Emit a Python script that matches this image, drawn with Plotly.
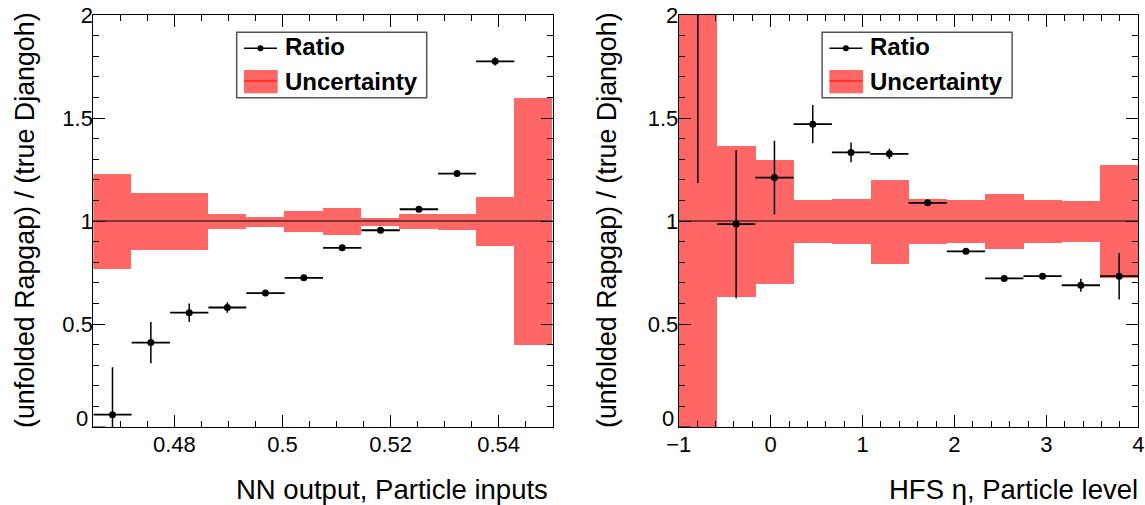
import plotly.graph_objects as go

# ---------------- data ----------------
left_edges = [0.4650, 0.4721, 0.4792, 0.4863, 0.4933, 0.5004, 0.5075,
              0.5146, 0.5217, 0.5288, 0.5358, 0.5429, 0.5500]
left_ratio = [0.06, 0.41, 0.555, 0.58, 0.65, 0.724, 0.87, 0.955, 1.057, 1.23, 1.775, None]
left_ratio_err = [0.23, 0.10, 0.045, 0.025, 0.015, 0.01, 0.008, 0.008, 0.008, 0.01, 0.02, 0.0]
left_unc_up = [1.228, 1.135, 1.134, 1.033, 1.020, 1.048, 1.062, 1.015, 1.032, 1.036, 1.116, 1.595]
left_unc_lo = [0.769, 0.860, 0.861, 0.960, 0.972, 0.946, 0.931, 0.978, 0.960, 0.957, 0.878, 0.398]

right_edges = [-1.0, -0.5833, -0.1667, 0.25, 0.6667, 1.0833, 1.5,
               1.9167, 2.3333, 2.75, 3.1667, 3.5833, 4.0]
right_ratio = [2.35, 0.985, 1.211, 1.47, 1.333, 1.326, 1.088, 0.853, 0.721, 0.732, 0.688, 0.732]
right_ratio_err_up = [1.165, 0.36, 0.178, 0.093, 0.048, 0.025, 0.01, 0.01, 0.01, 0.01, 0.032, 0.113]
right_ratio_err_lo = [1.165, 0.36, 0.178, 0.093, 0.048, 0.025, 0.01, 0.01, 0.01, 0.01, 0.032, 0.113]
right_unc_up = [2.40, 1.364, 1.297, 1.101, 1.106, 1.200, 1.109, 1.100, 1.129, 1.100, 1.096, 1.273]
right_unc_lo = [-0.40, 0.632, 0.696, 0.891, 0.889, 0.792, 0.886, 0.892, 0.866, 0.894, 0.897, 0.724]

y_tickvals = [0.5, 1, 1.5, 2]
y_zero_label = "0"
y_title = "(unfolded Rapgap) / (true Djangoh)"
x_title_left = "NN output, Particle inputs"
x_title_right = "HFS η, Particle level"
legend_labels = ["Ratio", "Uncertainty"]

# ---------------- style ----------------
W, H = 1145, 505
RED = "#ff6666"
FONT = "Liberation Sans, Arial, sans-serif"


def px_x(p):
    return p / W


def px_y(p):
    return 1 - p / H


def centers_widths(edges):
    c = [(a + b) / 2 for a, b in zip(edges[:-1], edges[1:])]
    w = [b - a for a, b in zip(edges[:-1], edges[1:])]
    return c, w


fig = go.Figure()

panels = [
    dict(xa="x", ya="y", edges=left_edges, ratio=left_ratio, eup=left_ratio_err,
         elo=left_ratio_err, up=left_unc_up, lo=left_unc_lo),
    dict(xa="x2", ya="y2", edges=right_edges, ratio=right_ratio, eup=right_ratio_err_up,
         elo=right_ratio_err_lo, up=right_unc_up, lo=right_unc_lo),
]

for p in panels:
    c, w = centers_widths(p["edges"])
    fig.add_trace(go.Bar(
        x=c, y=[u - l for u, l in zip(p["up"], p["lo"])], base=p["lo"], width=w,
        marker=dict(color=RED, line=dict(width=0)), xaxis=p["xa"], yaxis=p["ya"],
        showlegend=False, hoverinfo="skip"))
    fig.add_trace(go.Scatter(
        x=c, y=p["ratio"], mode="markers", xaxis=p["xa"], yaxis=p["ya"],
        marker=dict(color="black", size=7),
        error_x=dict(type="data", array=[v / 2 for v in w], color="black", thickness=1.8, width=0),
        error_y=dict(type="data", array=p["eup"], arrayminus=p["elo"], symmetric=False,
                     color="black", thickness=1.5, width=0),
        cliponaxis=True, showlegend=False))

dom_l = [px_x(93.3), px_x(552.7)]
dom_r = [px_x(678.7), px_x(1138.3)]
dom_y = [px_y(427), px_y(15)]

axis_common = dict(showline=True, linecolor="black", linewidth=1, mirror="allticks",
                   ticks="inside", ticklen=12, tickwidth=1, tickcolor="black",
                   showgrid=False, zeroline=False, automargin=False,
                   tickfont=dict(family=FONT, size=22, color="black"))

yminor = dict(ticks="inside", ticklen=6, dtick=0.1, tick0=0, tickcolor="black")

fig.update_layout(
    width=W, height=H, margin=dict(l=0, r=0, t=0, b=0, autoexpand=False),
    paper_bgcolor="white", plot_bgcolor="white", barmode="overlay", bargap=0,
    showlegend=False,
    xaxis=dict(domain=dom_l, range=[0.465, 0.55], tick0=0, dtick=0.02, ticklabelstandoff=-2,
               minor=dict(ticks="inside", ticklen=6, dtick=0.005, tick0=0, tickcolor="black"),
               anchor="y", **axis_common),
    yaxis=dict(domain=dom_y, range=[0, 2], tickmode="array", tickvals=y_tickvals,
               ticklabelstandoff=-5, minor=yminor, anchor="x", **axis_common),
    xaxis2=dict(domain=dom_r, range=[-1, 4], tick0=0, dtick=1, ticklabelstandoff=-2,
                minor=dict(ticks="inside", ticklen=6, dtick=0.2, tick0=0, tickcolor="black"),
                anchor="y2", **axis_common),
    yaxis2=dict(domain=dom_y, range=[0, 2], tickmode="array", tickvals=y_tickvals,
                ticklabelstandoff=-5, minor=yminor, anchor="x2", **axis_common),
)

shapes = []
annotations = []
for i, (xr, yr) in enumerate([("x", "y"), ("x2", "y2")]):
    # reference line at ratio 1
    shapes.append(dict(type="line", xref=f"{xr} domain", yref=yr, x0=0, x1=1, y0=1, y1=1,
                       line=dict(color="black", width=1)))
    # major tick at 0 (label drawn separately, raised as in the original)
    shapes.append(dict(type="line", xref=f"{xr} domain", yref=yr, x0=0, x1=12 / 459.4,
                       y0=0, y1=0, line=dict(color="black", width=1)))
    off = 0 if i == 0 else 585.4
    annotations.append(dict(xref=f"{xr} domain", yref=yr, x=0, y=0, xshift=-3, yshift=9,
                            xanchor="right", yanchor="middle", showarrow=False,
                            text=y_zero_label, font=dict(family=FONT, size=22, color="black")))
    # legend box
    shapes.append(dict(type="rect", xref="paper", yref="paper",
                       x0=px_x(236.7 + off), x1=px_x(426.7 + off), y0=px_y(97.7), y1=px_y(32.3),
                       line=dict(color="#555555", width=1.5), fillcolor="white"))
    shapes.append(dict(type="line", xref="paper", yref="paper",
                       x0=px_x(244 + off), x1=px_x(277 + off), y0=px_y(48.3), y1=px_y(48.3),
                       line=dict(color="black", width=1.5)))
    shapes.append(dict(type="circle", xref="paper", yref="paper",
                       x0=px_x(257.5 + off), x1=px_x(263.5 + off), y0=px_y(51.3), y1=px_y(45.3),
                       fillcolor="black", line=dict(color="black", width=0)))
    shapes.append(dict(type="rect", xref="paper", yref="paper",
                       x0=px_x(244 + off), x1=px_x(277.7 + off), y0=px_y(93.3), y1=px_y(70),
                       fillcolor=RED, line=dict(width=0)))
    shapes.append(dict(type="line", xref="paper", yref="paper",
                       x0=px_x(244 + off), x1=px_x(277 + off), y0=px_y(81), y1=px_y(81),
                       line=dict(color="red", width=1)))
    annotations.append(dict(xref="paper", yref="paper", x=px_x(283 + off), y=px_y(47),
                            xanchor="left", yanchor="middle", showarrow=False,
                            text=f"<b>{legend_labels[0]}</b>",
                            font=dict(family=FONT, size=24, color="black")))
    annotations.append(dict(xref="paper", yref="paper", x=px_x(283 + off), y=px_y(81),
                            xanchor="left", yanchor="middle", showarrow=False,
                            text=f"<b>{legend_labels[1]}</b>",
                            font=dict(family=FONT, size=24, color="black")))

# axis titles
annotations.append(dict(xref="paper", yref="paper", x=px_x(25), y=px_y(220), textangle=-90,
                        xanchor="center", yanchor="middle", showarrow=False, text=y_title,
                        font=dict(family=FONT, size=26.8, color="black")))
annotations.append(dict(xref="paper", yref="paper", x=px_x(607), y=px_y(220), textangle=-90,
                        xanchor="center", yanchor="middle", showarrow=False, text=y_title,
                        font=dict(family=FONT, size=26.8, color="black")))
annotations.append(dict(xref="paper", yref="paper", x=px_x(550), y=px_y(489),
                        xanchor="right", yanchor="middle", showarrow=False, text=x_title_left,
                        font=dict(family=FONT, size=27.5, color="black")))
annotations.append(dict(xref="paper", yref="paper", x=px_x(1140), y=px_y(489),
                        xanchor="right", yanchor="middle", showarrow=False, text=x_title_right,
                        font=dict(family=FONT, size=27.5, color="black")))

fig.update_layout(shapes=shapes, annotations=annotations)
fig.write_html("out.html", config={"displayModeBar": False},
               post_script="document.body.style.margin='0';document.body.style.overflow='hidden';")
